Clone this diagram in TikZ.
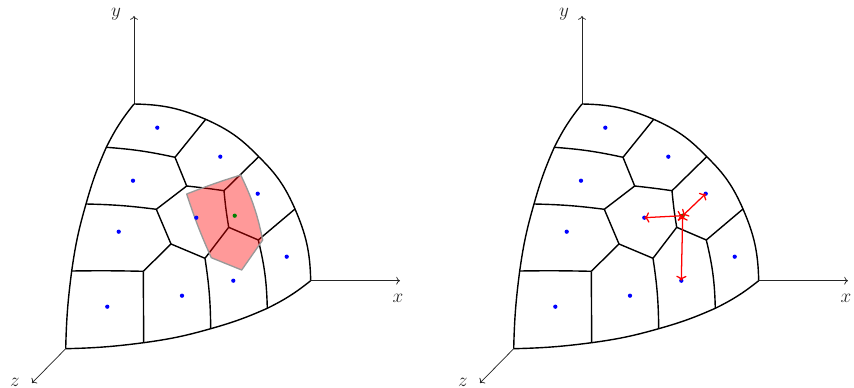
\documentclass[tikz,border=0pt]{standalone}
\usepackage{amsmath,amssymb}
\usepackage{xcolor}
\usetikzlibrary{arrows.meta, positioning}

% Cell walls of the spherical patch, drawn from the named vertices
\newcommand{\meshlines}{
    \coordinate (c) at (65.7,348.7);
    \coordinate (l1) at (71.7,271);
    \coordinate (l2) at (86,204);
    \coordinate (l3) at (106.3,147.3);
    \coordinate (t) at (134,104);
    \coordinate (r1) at (205.7,119.3);
    \coordinate (r2) at (258.7,156.7);
    \coordinate (r3) at (295,209);
    \coordinate (e) at (310.7,280.7);
    \coordinate (b1) at (143.7,342.7);
    \coordinate (b2) at (210.7,328.7);
    \coordinate (b3) at (267.3,308.3);
    \coordinate (va) at (175,157.3);
    \coordinate (vb) at (186.7,186);
    \coordinate (vc) at (224,190.7);
    \coordinate (vd) at (156.3,209.3);
    \coordinate (ve) at (228.7,227.3);
    \coordinate (vf) at (171,244);
    \coordinate (vg) at (258.3,240);
    \coordinate (vh) at (205,258.3);
    \coordinate (vi) at (143.3,271.3);
    % Axes
    \coordinate (yend) at (134,16);
    \coordinate (xend) at (400,280.7);
    \coordinate (zend) at (32,383);
    \draw[axis] (t) -- (yend);
    \draw[axis] (e) -- (xend);
    \draw[axis] (c) -- (zend);
    \node[axislabel] (ylab) at (116,14) {$y$};
    \node[axislabel] (xlab) at (398,298) {$x$};
    \node[axislabel] (zlab) at (15,382) {$z$};
    % Boundary
    \draw[wall] (c) to[bend left=3] (l1) to[bend left=4] (l2) to[bend left=4] (l3) to[bend left=6] (t);
    \draw[wall] (t) to[bend left=11] (r1) to[bend left=11] (r2) to[bend left=11] (r3) to[bend left=11] (e);
    \draw[wall] (c) to[bend right=3] (b1) to[bend right=4] (b2) to[bend right=4] (b3) to[bend right=6] (e);
    % Inner walls
    \draw[wall] (r1) -- (va);
    \draw[wall] (l3) to[bend left=4] (va);
    \draw[wall] (va) -- (vb);
    \draw[wall] (vb) to[bend left=1] (vc);
    \draw[wall] (vc) -- (r2);
    \draw[wall] (vb) -- (vd);
    \draw[wall] (l2) to[bend left=3] (vd);
    \draw[wall] (vd) -- (vf);
    \draw[wall] (vc) to[bend right=2] (ve);
    \draw[wall] (ve) -- (vg);
    \draw[wall] (vg) -- (r3);
    \draw[wall] (ve) -- (vh);
    \draw[wall] (vf) -- (vh);
    \draw[wall] (vf) -- (vi);
    \draw[wall] (l1) to[bend left=1] (vi);
    \draw[wall] (vi) -- (b1);
    \draw[wall] (vh) to[bend left=4] (b2);
    \draw[wall] (vg) to[bend left=6] (b3);
}

% Cell centres
\newcommand{\meshdots}{
    \foreach \px/\py/\pname in {157.3/127.7/p1, 220.3/156.7/p2, 133/180.7/p3, 257.7/193.7/p4, 196.3/217.7/p5, 118.7/231.7/p6, 286.7/256.7/p7, 182/295.7/p8, 233.3/280.7/p9, 107.3/306.7/p10}
        \node[bluedot] (\pname) at (\px,\py) {};
    \node[greendot] (q) at (234.7,215.7) {};
}

\begin{document}
\begin{tikzpicture}[
    x=0.75pt, y=-0.75pt,
    wall/.style={black, line width=1.05pt},
    axis/.style={->, black!85, line width=0.55pt},
    axislabel/.style={inner sep=0pt, text=black!85, font=\fontsize{13.3}{16}\selectfont},
    bluedot/.style={circle, fill=blue, inner sep=0pt, minimum size=3.2pt},
    greendot/.style={circle, fill=black!50!green, inner sep=0pt, minimum size=3.2pt},
    patch/.style={draw=gray!80, line width=1pt, fill=red, fill opacity=0.4, line join=round},
    link/.style={<->, red, line width=0.95pt}
]
\useasboundingbox (0,0) rectangle (854,388);

% Left patch with the shaded stencil
\begin{scope}
    \meshlines
    \coordinate (s1) at (186.7,194);
    \coordinate (s2) at (240.7,175);
    \coordinate (s3) at (262.7,240);
    \coordinate (s4) at (241.7,270);
    \coordinate (s5) at (211.3,257.7);
    \draw[patch] (s1) to[bend left=2] (s2) to[bend left=7] (s3) -- (s4) -- (s5) to[bend left=3] (s1) -- cycle;
    \meshdots
\end{scope}

% Right patch with the links between centres
\begin{scope}[xshift=336pt]
    \meshlines
    \meshdots
    \draw[link] (q.center) -- (p4.center);
    \draw[link] (q.center) -- (p5.center);
    \draw[link] (q.center) -- (p9.center);
\end{scope}

\end{tikzpicture}
\end{document}
